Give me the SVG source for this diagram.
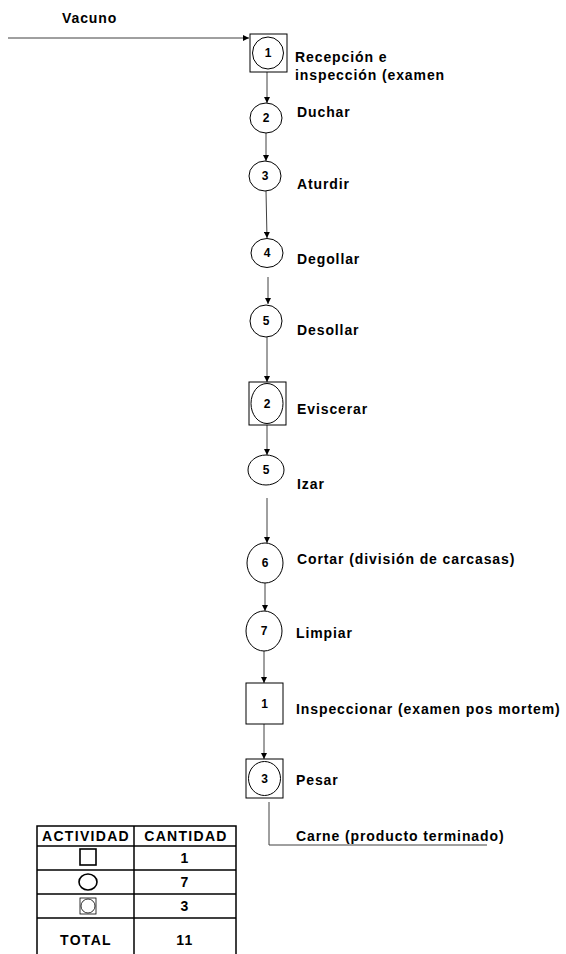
<svg xmlns="http://www.w3.org/2000/svg" width="566" height="954" viewBox="0 0 566 954">
  <style>
    .bg { fill: #ffffff; }
    .shape { fill: none; stroke: #000000; stroke-width: 1; }
    .num { font-family: "Liberation Sans", Arial, sans-serif; font-weight: bold; font-size: 12px; fill: #000000; text-anchor: middle; }
    .lbl { font-family: "Liberation Sans", Arial, sans-serif; font-weight: bold; font-size: 14px; fill: #000000; letter-spacing: 0.9px; }
    .flow { fill: none; stroke: #404040; stroke-width: 1; }
    .grid { fill: none; stroke: #000000; stroke-width: 1.5; }
    .tbl { font-family: "Liberation Sans", Arial, sans-serif; font-weight: bold; font-size: 14px; fill: #000000; text-anchor: middle; letter-spacing: 1.3px; }
    .icon { fill: none; stroke: #000000; stroke-width: 1.6; }
    .icon-thin { fill: none; stroke: #000000; stroke-width: 0.8; }
  </style>
  <defs>
    <marker id="arrow" viewBox="0 0 8 8" refX="8" refY="4" markerWidth="6" markerHeight="6" markerUnits="userSpaceOnUse" orient="auto">
      <path d="M0,0 L8,4 L0,8 Z" fill="#000000"/>
    </marker>
  </defs>

  <rect class="bg" x="0" y="0" width="566" height="954"/>

  <!-- input label -->
  <text class="lbl" x="62" y="23">Vacuno</text>

  <!-- connectors -->
  <g id="connectors">
    <line class="flow" x1="8" y1="38" x2="249" y2="38" marker-end="url(#arrow)"/>
    <line class="flow" x1="267" y1="72" x2="267" y2="103" marker-end="url(#arrow)"/>
    <line class="flow" x1="266" y1="133" x2="266" y2="161" marker-end="url(#arrow)"/>
    <line class="flow" x1="266" y1="191" x2="267" y2="238" marker-end="url(#arrow)"/>
    <line class="flow" x1="268" y1="277" x2="268" y2="304" marker-end="url(#arrow)"/>
    <line class="flow" x1="267" y1="337" x2="267" y2="382" marker-end="url(#arrow)"/>
    <line class="flow" x1="267" y1="425" x2="267" y2="455" marker-end="url(#arrow)"/>
    <line class="flow" x1="267" y1="498" x2="267" y2="543" marker-end="url(#arrow)"/>
    <line class="flow" x1="265" y1="583" x2="265" y2="611" marker-end="url(#arrow)"/>
    <line class="flow" x1="264" y1="651" x2="264" y2="683" marker-end="url(#arrow)"/>
    <line class="flow" x1="264" y1="724" x2="264" y2="759" marker-end="url(#arrow)"/>
    <polyline class="flow" points="269,802 269,845 487,845"/>
  </g>

  <!-- process steps -->
  <g id="step-recepcion">
    <rect class="shape" x="250" y="34" width="37" height="38"/>
    <ellipse class="shape" cx="268" cy="53" rx="15.5" ry="16"/>
    <text class="num" x="268" y="57">1</text>
    <text class="lbl" x="295" y="62">Recepción e</text>
    <text class="lbl" x="295" y="80">inspección (examen</text>
  </g>

  <g id="step-duchar">
    <ellipse class="shape" cx="266" cy="118" rx="16" ry="15"/>
    <text class="num" x="266" y="122">2</text>
    <text class="lbl" x="297" y="117">Duchar</text>
  </g>

  <g id="step-aturdir">
    <ellipse class="shape" cx="265" cy="176" rx="16" ry="15"/>
    <text class="num" x="265" y="180">3</text>
    <text class="lbl" x="297" y="189">Aturdir</text>
  </g>

  <g id="step-degollar">
    <ellipse class="shape" cx="267" cy="253" rx="16" ry="14.5"/>
    <text class="num" x="267" y="257">4</text>
    <text class="lbl" x="297" y="264">Degollar</text>
  </g>

  <g id="step-desollar">
    <ellipse class="shape" cx="266" cy="321" rx="16" ry="16"/>
    <text class="num" x="266" y="325">5</text>
    <text class="lbl" x="297" y="335">Desollar</text>
  </g>

  <g id="step-eviscerar">
    <rect class="shape" x="249" y="382" width="37" height="43"/>
    <ellipse class="shape" cx="267" cy="403.5" rx="16" ry="20"/>
    <text class="num" x="267" y="408">2</text>
    <text class="lbl" x="297" y="414">Eviscerar</text>
  </g>

  <g id="step-izar">
    <ellipse class="shape" cx="266" cy="470" rx="18" ry="15"/>
    <text class="num" x="266" y="474">5</text>
    <text class="lbl" x="297" y="489">Izar</text>
  </g>

  <g id="step-cortar">
    <ellipse class="shape" cx="265" cy="563" rx="18" ry="20"/>
    <text class="num" x="265" y="567">6</text>
    <text class="lbl" x="297" y="564">Cortar (división de carcasas)</text>
  </g>

  <g id="step-limpiar">
    <ellipse class="shape" cx="264" cy="631" rx="18" ry="20"/>
    <text class="num" x="264" y="635">7</text>
    <text class="lbl" x="296" y="638">Limpiar</text>
  </g>

  <g id="step-inspeccionar">
    <rect class="shape" x="246" y="683" width="37" height="41"/>
    <text class="num" x="264.5" y="708">1</text>
    <text class="lbl" x="296" y="714">Inspeccionar (examen pos mortem)</text>
  </g>

  <g id="step-pesar">
    <rect class="shape" x="246" y="759" width="37" height="39"/>
    <ellipse class="shape" cx="264.5" cy="778.5" rx="16" ry="17"/>
    <text class="num" x="264.5" y="783">3</text>
    <text class="lbl" x="296" y="785">Pesar</text>
  </g>

  <g id="output">
    <text class="lbl" x="296" y="841">Carne (producto terminado)</text>
  </g>

  <!-- summary table -->
  <g id="summary-table">
    <polyline class="grid" points="37,954 37,826 236,826 236,954"/>
    <line class="grid" x1="134" y1="826" x2="134" y2="954"/>
    <line class="grid" x1="37" y1="846" x2="236" y2="846"/>
    <line class="grid" x1="37" y1="870" x2="236" y2="870"/>
    <line class="grid" x1="37" y1="894" x2="236" y2="894"/>
    <line class="grid" x1="37" y1="918" x2="236" y2="918"/>

    <text class="tbl" x="86" y="841">ACTIVIDAD</text>
    <text class="tbl" x="186" y="841">CANTIDAD</text>

    <rect class="icon" x="80" y="849" width="16" height="16"/>
    <text class="tbl" x="185" y="863">1</text>

    <ellipse class="icon" cx="88" cy="882" rx="9" ry="8"/>
    <text class="tbl" x="185" y="887">7</text>

    <rect class="icon-thin" x="80" y="898" width="16" height="16"/>
    <ellipse class="icon-thin" cx="88" cy="906" rx="7" ry="7"/>
    <text class="tbl" x="185" y="911">3</text>

    <text class="tbl" x="86" y="945">TOTAL</text>
    <text class="tbl" x="185" y="945">11</text>
  </g>
</svg>
